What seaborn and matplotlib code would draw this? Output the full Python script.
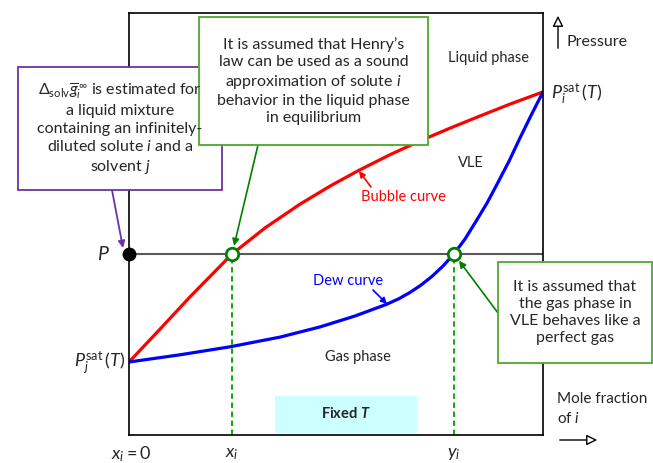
import matplotlib
matplotlib.use("Agg")
import matplotlib.pyplot as plt
from matplotlib.patches import Rectangle
import seaborn as sns

# figure size in pixels
W, H = 653, 463

# bubble curve: mole fraction of i in liquid vs. normalised pressure
x_bubble = [0.0, 0.075, 0.147, 0.249, 0.329, 0.413, 0.486, 0.553, 0.630, 0.703, 0.775, 0.848, 0.920, 1.0]
p_bubble = [0.173, 0.251, 0.327, 0.429, 0.491, 0.547, 0.590, 0.626, 0.664, 0.697, 0.727, 0.756, 0.784, 0.813]

# dew curve: mole fraction of i in gas vs. normalised pressure
x_dew = [0.0, 0.123, 0.244, 0.365, 0.461, 0.546, 0.623, 0.652, 0.679, 0.705, 0.732, 0.758,
         0.785, 0.812, 0.838, 0.865, 0.891, 0.918, 0.944, 0.971, 1.0]
p_dew = [0.173, 0.190, 0.209, 0.232, 0.256, 0.282, 0.310, 0.323, 0.338, 0.355, 0.376, 0.400,
         0.429, 0.465, 0.506, 0.550, 0.598, 0.649, 0.703, 0.757, 0.813]

# equilibrium state at pressure P
P_eq = 0.429
x_liq = 0.249
y_vap = 0.785

sns.set_style("white")
plt.rcParams["font.family"] = ["Lato", "DejaVu Sans"]
plt.rcParams["mathtext.fontset"] = "custom"
plt.rcParams["mathtext.rm"] = "Lato"
plt.rcParams["mathtext.it"] = "Lato:italic"
plt.rcParams["mathtext.bf"] = "Lato:italic:bold"


def fxy(px, py):
    """pixel position (from top-left) -> figure fraction"""
    return (px / W, 1 - py / H)


fig = plt.figure(figsize=(W / 100, H / 100), dpi=100)
ax = fig.add_axes([129 / W, 28 / H, 414 / W, 422 / H])

# curves
sns.lineplot(x=x_bubble, y=p_bubble, color="#ff0000", lw=2.3, sort=False, ax=ax)
sns.lineplot(x=x_dew, y=p_dew, color="#0000ff", lw=2.3, sort=False, ax=ax)

# pressure line and tie points
ax.axhline(P_eq, color="#595959", lw=1.5, zorder=1)
ax.vlines([x_liq, y_vap], 0, P_eq, colors="#00a000", linestyles=(0, (3, 2)), lw=1.3)
ax.plot([0], [P_eq], "o", color="black", ms=9, clip_on=False, zorder=5)
ax.plot([x_liq, y_vap], [P_eq, P_eq], "o", mfc="white", mec="#008000", mew=2, ms=9, zorder=5)

ax.set_xlim(0, 1)
ax.set_ylim(0, 1)
ax.set_xticks([])
ax.set_yticks([])
for s in ax.spines.values():
    s.set_visible(True)
    s.set_color("black")
    s.set_linewidth(1.2)

fs = 10.5
fs_box = 11.5

# labels inside the diagram
fig.text(*fxy(489, 58), "Liquid phase", ha="center", va="center", size=fs)
fig.text(*fxy(471, 163), "VLE", ha="center", va="center", size=fs)
fig.text(*fxy(403, 197), "Bubble curve", ha="center", va="center", size=fs, color="#ff0000")
fig.text(*fxy(348, 281), "Dew curve", ha="center", va="center", size=fs, color="#0000ff")
fig.text(*fxy(358, 357), "Gas phase", ha="center", va="center", size=fs)

# fixed T box
fig.patches.append(Rectangle(fxy(275, 433), 142 / W, 37 / H, transform=fig.transFigure,
                             facecolor="#ccffff", edgecolor="none", zorder=0))
fig.text(*fxy(346, 414), r"Fixed $\mathbf{T}$", ha="center", va="center", size=fs, weight="bold")

# axis labels
fig.text(*fxy(103, 254), "$P$", ha="center", va="center", size=14)
fig.text(*fxy(100, 363), r"$P_j^{\rm sat}\,(T)$", ha="center", va="center", size=13)
fig.text(*fxy(551, 94), r"$P_i^{\rm sat}\,(T)$", ha="left", va="center", size=13)
fig.text(*fxy(131, 454), r"$x_i = 0$", ha="center", va="center", size=13)
fig.text(*fxy(232, 454), r"$x_i$", ha="center", va="center", size=13)
fig.text(*fxy(454, 454), r"$y_i$", ha="center", va="center", size=13)

fig.text(*fxy(567, 42), "Pressure", ha="left", va="center", size=11.5)
ax.annotate("", xy=fxy(558, 13), xytext=fxy(558, 51), xycoords="figure fraction",
            textcoords="figure fraction",
            arrowprops=dict(arrowstyle="-|>", fc="white", ec="black", lw=1, mutation_scale=16))
fig.text(*fxy(557, 409), "Mole fraction\nof $i$", ha="left", va="center", size=11, linespacing=1.45)
ax.annotate("", xy=fxy(600, 440), xytext=fxy(557, 440), xycoords="figure fraction",
            textcoords="figure fraction",
            arrowprops=dict(arrowstyle="-|>", fc="white", ec="black", lw=1, mutation_scale=16))

# note boxes
def note_box(x0, y0, x1, y1, color, text):
    fig.patches.append(Rectangle(fxy(x0, y1), (x1 - x0) / W, (y1 - y0) / H,
                                 transform=fig.transFigure, facecolor="white",
                                 edgecolor=color, lw=1.3, zorder=3))
    t = fig.text(*fxy((x0 + x1) / 2, (y0 + y1) / 2), text, ha="center", va="center",
                 size=fs_box, linespacing=1.3, multialignment="center")
    t.set_zorder(4)


note_box(18, 67, 222, 190, "#7030a0",
         "$\\Delta_{\\rm solv}\\overline{g}_i^{\\,\\infty}$ is estimated for\n"
         "a liquid mixture\ncontaining an infinitely-\ndiluted solute $i$ and a\nsolvent $j$")
note_box(199, 17, 428, 145, "#4ea72e",
         "It is assumed that Henry\u2019s\nlaw can be used as a sound\n"
         "approximation of solute $i$\nbehavior in the liquid phase\nin equilibrium")
note_box(498, 262, 652, 363, "#4ea72e",
         "It is assumed that\nthe gas phase in\nVLE behaves like a\nperfect gas")

# pointer arrows
ax.annotate("", xy=fxy(123, 248), xytext=fxy(112, 190), xycoords="figure fraction",
            textcoords="figure fraction",
            arrowprops=dict(arrowstyle="-|>", color="#7030a0", lw=1.3, mutation_scale=10,
                            shrinkA=0, shrinkB=0))
ax.annotate("", xy=(x_liq, P_eq), xytext=fxy(258, 145), xycoords="data",
            textcoords="figure fraction",
            arrowprops=dict(arrowstyle="-|>", color="#008000", lw=1.2, mutation_scale=10,
                            shrinkA=0, shrinkB=6))
ax.annotate("", xy=(y_vap, P_eq), xytext=fxy(498, 313), xycoords="data",
            textcoords="figure fraction",
            arrowprops=dict(arrowstyle="-|>", color="#008000", lw=1.2, mutation_scale=10,
                            shrinkA=0, shrinkB=6))
ax.annotate("", xy=fxy(359, 171), xytext=fxy(371, 187), xycoords="figure fraction",
            textcoords="figure fraction",
            arrowprops=dict(arrowstyle="-|>", color="#ff0000", lw=1.2, mutation_scale=9,
                            shrinkA=0, shrinkB=0))
ax.annotate("", xy=fxy(387, 304), xytext=fxy(373, 290), xycoords="figure fraction",
            textcoords="figure fraction",
            arrowprops=dict(arrowstyle="-|>", color="#0000ff", lw=1.2, mutation_scale=9,
                            shrinkA=0, shrinkB=0))

fig.savefig("out.png", dpi=100)
